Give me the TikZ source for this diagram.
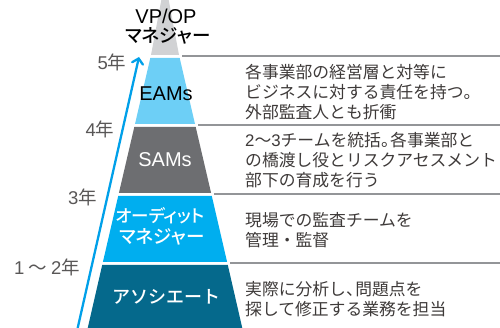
\documentclass[tikz,border=0pt]{standalone}
\usepackage{fontspec}
\setmainfont{Noto Sans CJK JP}
\newfontfamily\lat{Liberation Sans}
\newfontfamily\kanaP[RawFeature=+palt]{Noto Sans CJK JP Medium}
\newfontfamily\kanaM{Noto Sans CJK JP Medium}
\newcommand{\hpunct}[1]{\makebox[0.55em][l]{#1}}
\usetikzlibrary{arrows.meta}
\definecolor{topgray}{HTML}{D1D2D4}
\definecolor{eamblue}{HTML}{6DCFF6}
\definecolor{samgray}{HTML}{6D6E71}
\definecolor{amcyan}{HTML}{00AEEF}
\definecolor{assoc}{HTML}{05698C}
\definecolor{rulegray}{HTML}{939598}
\definecolor{arrowblue}{HTML}{00A0E9}
\definecolor{txtgray}{HTML}{3E3A39}
\definecolor{yeargray}{HTML}{595757}
\tikzset{
  desc/.style={anchor=west, inner sep=0pt, align=left, text=txtgray, font=\fontsize{16.8}{20}\selectfont},
  yearlbl/.style={inner sep=0pt, text=yeargray, font=\fontsize{18.5}{20}\selectfont},
  lvl/.style={inner sep=0pt, align=center, font=\kanaP\fontsize{18.5}{21}\selectfont},
  latlvl/.style={inner sep=0pt, align=center, font=\lat\fontsize{20}{21}\selectfont},
  sep/.style={draw=rulegray, line width=2pt},
}
\begin{document}
\begin{tikzpicture}[x=1pt,y=-1pt]
\useasboundingbox (0,0) rectangle (500,328);
% pyramid layers (center x = 165)
\fill[topgray] (161.5,-1) -- (168.5,-1) -- (179,55) -- (151,55) -- cycle;
\fill[eamblue] (150.3,58) -- (179.7,58) -- (195,124) -- (135,124) -- cycle;
\fill[samgray] (134.3,127) -- (195.7,127) -- (211.1,193) -- (118.9,193) -- cycle;
\fill[amcyan] (118.2,196) -- (211.8,196) -- (227.1,262) -- (102.9,262) -- cycle;
\fill[assoc] (102.2,265) -- (227.8,265) -- (242.5,329) -- (87.5,329) -- cycle;
% separator lines
\coordinate (s1a) at (182,56.5); \coordinate (s1b) at (500,56.5);
\coordinate (s2a) at (198,125.5); \coordinate (s2b) at (500,125.5);
\coordinate (s3a) at (214,194.5); \coordinate (s3b) at (500,194.5);
\coordinate (s4a) at (230,263.5); \coordinate (s4b) at (500,263.5);
\draw[sep] (s1a) -- (s1b);
\draw[sep] (s2a) -- (s2b);
\draw[sep] (s3a) -- (s3b);
\draw[sep] (s4a) -- (s4b);
% arrow
\coordinate (arA) at (77,331);
\coordinate (arB) at (139,57);
\draw[arrowblue, line width=2.3pt, -{Straight Barb[length=5pt,width=11pt,line cap=round]}] (arA) -- (arB);
% level labels
\node[latlvl, text=black] (vp) at (166,16) {VP/OP};
\node[lvl, text=black] (vpm) at (168,36) {マネジャー};
\node[latlvl, text=black] (eam) at (166,94) {EAMs};
\node[latlvl, text=white] (sam) at (165,160) {SAMs};
\node[lvl, text=white, font=\kanaP\fontsize{17.5}{21}\selectfont] (am1) at (160,216) {オーディット};
\node[lvl, text=white] (am2) at (162,237) {マネジャー};
\node[lvl, text=white, font=\kanaM\fontsize{18}{21}\selectfont] (as) at (166,297) {アソシエート};
% year labels
\node[yearlbl] (y5) at (112,62) {{\lat 5}年};
\node[yearlbl] (y4) at (100,129) {{\lat 4}年};
\node[yearlbl] (y3) at (82.5,197) {{\lat 3}年};
\node[yearlbl] (y1) at (47,267) {{\lat 1} ～ {\lat 2}年};
% descriptions
\node[desc] (d1) at (245,92) {各事業部の経営層と対等に\\ビジネスに対する責任を持つ\hpunct{。}\\外部監査人とも折衝};
\node[desc] (d2) at (245,160) {{\lat 2}～{\lat 3}チームを統括\hpunct{。}各事業部と\\の橋渡し役とリスクアセスメント\\部下の育成を行う};
\node[desc] (d3) at (245,230) {現場での監査チームを\\管理・監督};
\node[desc] (d4) at (245,299.5) {実際に分析し\hpunct{、}問題点を\\探して修正する業務を担当};
\end{tikzpicture}
\end{document}
